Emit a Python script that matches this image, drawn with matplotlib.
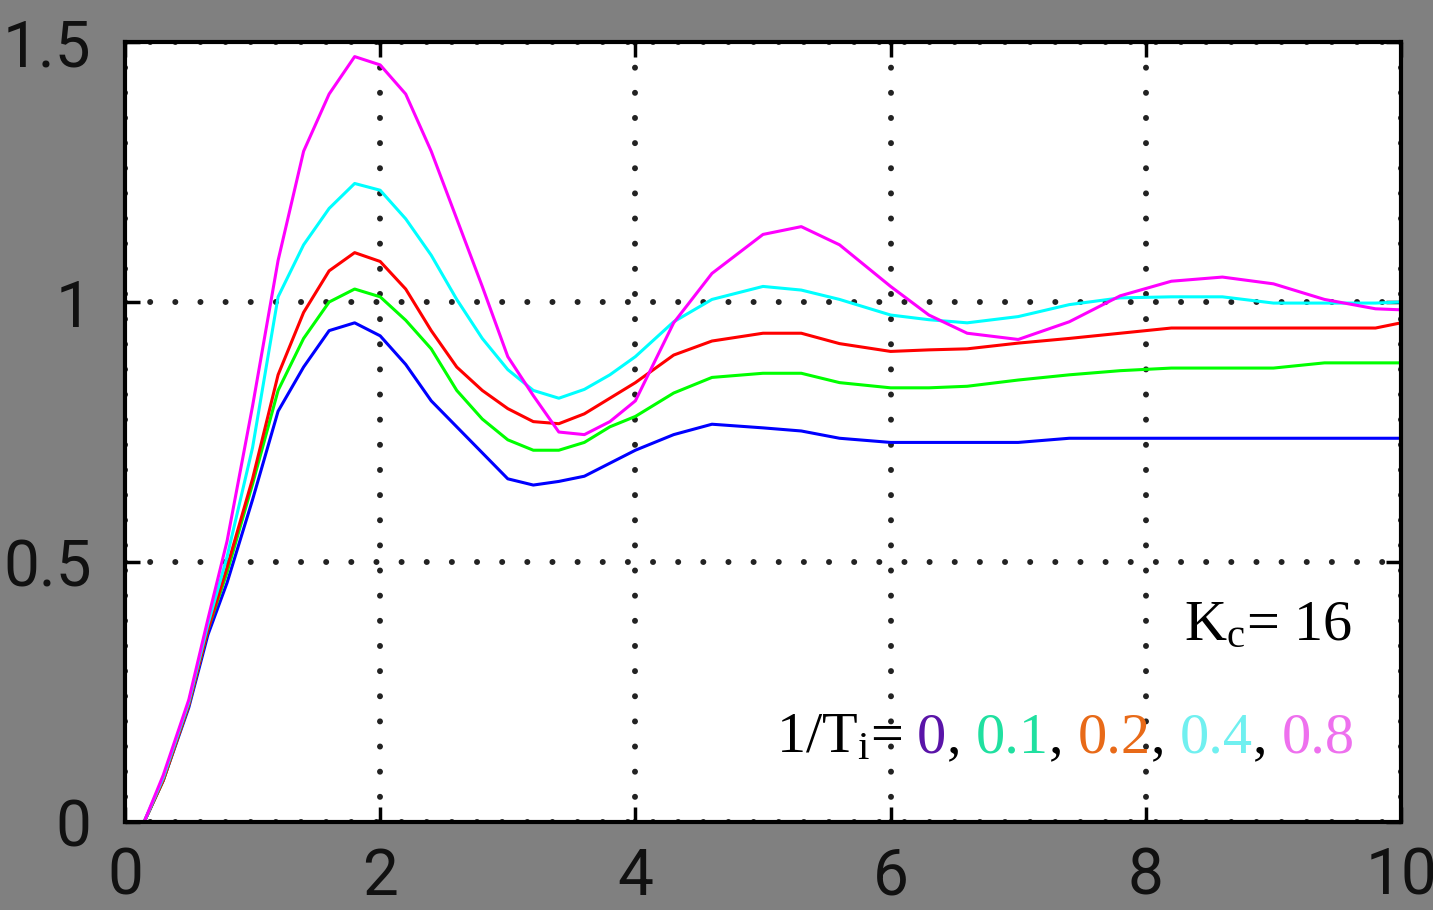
import matplotlib.pyplot as plt
from matplotlib.offsetbox import TextArea, HPacker, AnchoredOffsetbox

# tempo e respostas (Kc = 16, 1/Ti = 0, 0.1, 0.2, 0.4, 0.8)
tempo = [0, 0.15, 0.3, 0.5, 0.65, 0.8, 1.0, 1.2, 1.4, 1.6, 1.8, 2.0, 2.2, 2.4, 2.6, 2.8,
         3.0, 3.2, 3.4, 3.6, 3.8, 4.0, 4.3, 4.6, 5.0, 5.3, 5.6, 6.0, 6.3, 6.6, 7.0,
         7.4, 7.8, 8.2, 8.6, 9.0, 9.4, 9.8, 10.0]

resp_00 = [0, 0, 0.08, 0.22, 0.36, 0.46, 0.62, 0.79, 0.875, 0.945, 0.96, 0.935, 0.88, 0.81,
           0.76, 0.71, 0.66, 0.648, 0.655, 0.665, 0.69, 0.715, 0.745, 0.765, 0.758, 0.752,
           0.738, 0.73, 0.73, 0.73, 0.73, 0.738, 0.738, 0.738, 0.738, 0.738, 0.738, 0.738, 0.738]
resp_01 = [0, 0, 0.08, 0.225, 0.37, 0.48, 0.65, 0.83, 0.93, 1.0, 1.025, 1.01, 0.965, 0.91,
           0.83, 0.775, 0.735, 0.715, 0.715, 0.73, 0.76, 0.78, 0.825, 0.855, 0.863, 0.863,
           0.845, 0.835, 0.835, 0.838, 0.85, 0.86, 0.868, 0.873, 0.873, 0.873, 0.883, 0.883, 0.883]
resp_02 = [0, 0, 0.08, 0.225, 0.37, 0.49, 0.66, 0.86, 0.98, 1.06, 1.095, 1.078, 1.025, 0.945,
           0.875, 0.83, 0.795, 0.77, 0.766, 0.785, 0.815, 0.845, 0.898, 0.925, 0.94, 0.94,
           0.92, 0.905, 0.908, 0.91, 0.921, 0.93, 0.94, 0.95, 0.95, 0.95, 0.95, 0.95, 0.96]
resp_04 = [0, 0, 0.085, 0.23, 0.38, 0.51, 0.72, 1.01, 1.11, 1.18, 1.228, 1.215, 1.16, 1.09,
           1.005, 0.93, 0.87, 0.83, 0.815, 0.832, 0.86, 0.895, 0.962, 1.005, 1.03, 1.023,
           1.005, 0.975, 0.966, 0.96, 0.972, 0.995, 1.008, 1.01, 1.01, 0.998, 0.998, 0.998, 1.0]
resp_08 = [0, 0, 0.09, 0.235, 0.39, 0.54, 0.80, 1.08, 1.29, 1.40, 1.472, 1.456, 1.40, 1.29,
           1.16, 1.03, 0.895, 0.82, 0.75, 0.745, 0.77, 0.81, 0.96, 1.055, 1.13, 1.145,
           1.11, 1.03, 0.975, 0.94, 0.928, 0.962, 1.012, 1.04, 1.048, 1.035, 1.005, 0.987, 0.985]

respostas = [resp_00, resp_01, resp_02, resp_04, resp_08]
cores_linhas = ['#0000ff', '#00ff00', '#ff0000', '#00ffff', '#ff00ff']

valores_ti = ['0', '0.1', '0.2', '0.4', '0.8']
cores_texto = ['#5a14a8', '#20e0a0', '#e86a18', '#70f0f0', '#ee70ee']

x_ticks = [0, 2, 4, 6, 8, 10]
y_ticks = [0, 0.5, 1, 1.5]
y_labels = ['0', '0.5', '1', '1.5']

plt.rcParams['mathtext.fontset'] = 'custom'
plt.rcParams['mathtext.rm'] = 'Liberation Serif'
plt.rcParams['mathtext.it'] = 'Liberation Serif:italic'

fig = plt.figure(figsize=(14.33, 9.10), dpi=100, facecolor='#808080')
ax = fig.add_axes([0.0872, 0.0967, 0.8905, 0.8571])
ax.set_facecolor('white')

for resp, cor in zip(respostas, cores_linhas):
    ax.plot(tempo, resp, color=cor, linewidth=2.2)

ax.set_xlim(0, 10)
ax.set_ylim(0, 1.5)
ax.set_xticks(x_ticks)
ax.set_xticklabels([str(t) for t in x_ticks])
ax.set_yticks(y_ticks)
ax.set_yticklabels(y_labels)
ax.grid(True, color='#222222', linestyle=(0, (0.01, 4.2)), linewidth=4.3,
        dash_capstyle='round')

for lado in ax.spines.values():
    lado.set_linewidth(3)
    lado.set_color('black')

ax.tick_params(direction='in', length=11, width=2.5, top=True, right=True,
               labelsize=46, labelcolor='#111111')
ax.tick_params(axis='x', pad=17)
ax.tick_params(axis='y', pad=24)
for rotulo in ax.get_xticklabels() + ax.get_yticklabels():
    rotulo.set_family(['Roboto', 'DejaVu Sans'])

# textos com Kc e 1/Ti
fonte = dict(family='Liberation Serif', size=42)

linha1 = TextArea(r'$\mathrm{K_c}$= 16', textprops=dict(color='black', **fonte))
caixa1 = AnchoredOffsetbox(loc='lower right', child=linha1, pad=0, borderpad=0,
                           frameon=False, bbox_to_anchor=(0.9435, 0.283),
                           bbox_transform=fig.transFigure)
fig.add_artist(caixa1)

pecas = [TextArea(r'1/$\mathrm{T_i}$=', textprops=dict(color='black', **fonte))]
for i, (v, c) in enumerate(zip(valores_ti, cores_texto)):
    num = TextArea(v, textprops=dict(color=c, **fonte))
    if i < len(valores_ti) - 1:
        virgula = TextArea(',', textprops=dict(color='black', **fonte))
        pecas.append(HPacker(children=[num, virgula], align='baseline', pad=0, sep=0))
    else:
        pecas.append(num)
linha2 = HPacker(children=pecas, align='baseline', pad=0, sep=10.5)
caixa2 = AnchoredOffsetbox(loc='lower right', child=linha2, pad=0, borderpad=0,
                           frameon=False, bbox_to_anchor=(0.9456, 0.16),
                           bbox_transform=fig.transFigure)
fig.add_artist(caixa2)

fig.savefig('out.png', dpi=100, facecolor=fig.get_facecolor())
